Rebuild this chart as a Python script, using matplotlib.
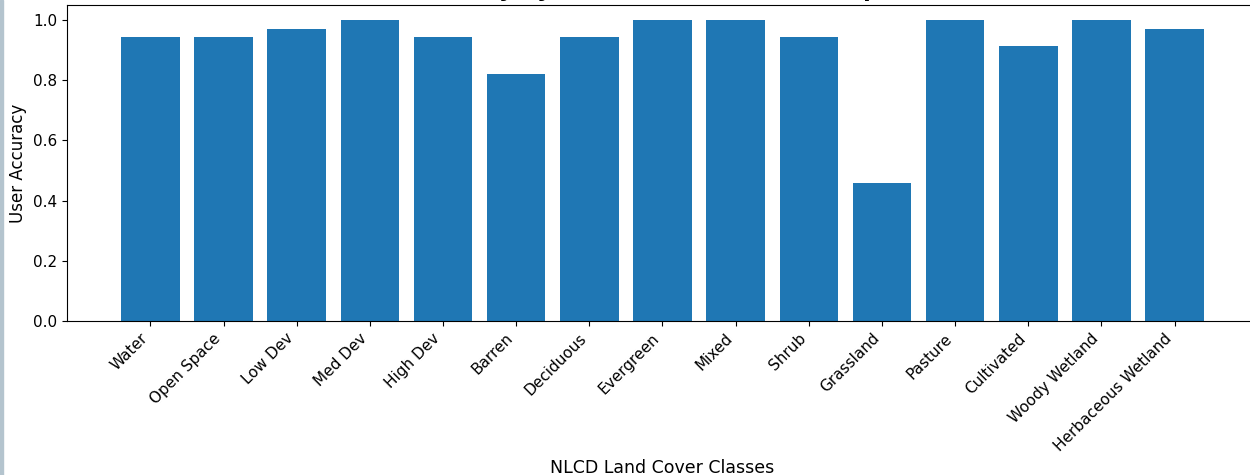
import matplotlib
matplotlib.use("Agg")
import matplotlib.pyplot as plt
from matplotlib.patches import Rectangle

classes = ["Water", "Open Space", "Low Dev", "Med Dev", "High Dev", "Barren",
           "Deciduous", "Evergreen", "Mixed", "Shrub", "Grassland", "Pasture",
           "Cultivated", "Woody Wetland", "Herbaceous Wetland"]
user_accuracy = [0.943, 0.943, 0.971, 1.0, 0.943, 0.82,
                 0.943, 1.0, 1.0, 0.943, 0.457, 1.0,
                 0.914, 1.0, 0.971]

W, H = 1250, 475
fig = plt.figure(figsize=(W / 100, H / 100), dpi=100)
left, right, top, bottom = 67, 1258, 5, 321
ax = fig.add_axes([left / W, (H - bottom) / H, (right - left) / W, (bottom - top) / H])

ax.bar(classes, user_accuracy, color="#1f77b4")
ax.set_ylabel("User Accuracy", fontsize=12)
ax.set_xlabel("NLCD Land Cover Classes", fontsize=12.5)
ax.set_title("User Accuracy by Land Cover (Visual Interpretation)",
             fontsize=16, fontweight="bold")
ax.tick_params(axis="both", labelsize=11)
plt.setp(ax.get_xticklabels(), rotation=45, ha="right")

# thin screenshot border strip at the left edge
fig.patches.append(Rectangle((0, 0), 3 / W, 1, transform=fig.transFigure,
                             color="#b4c4ce", zorder=10))

fig.savefig("out.png", dpi=100)
